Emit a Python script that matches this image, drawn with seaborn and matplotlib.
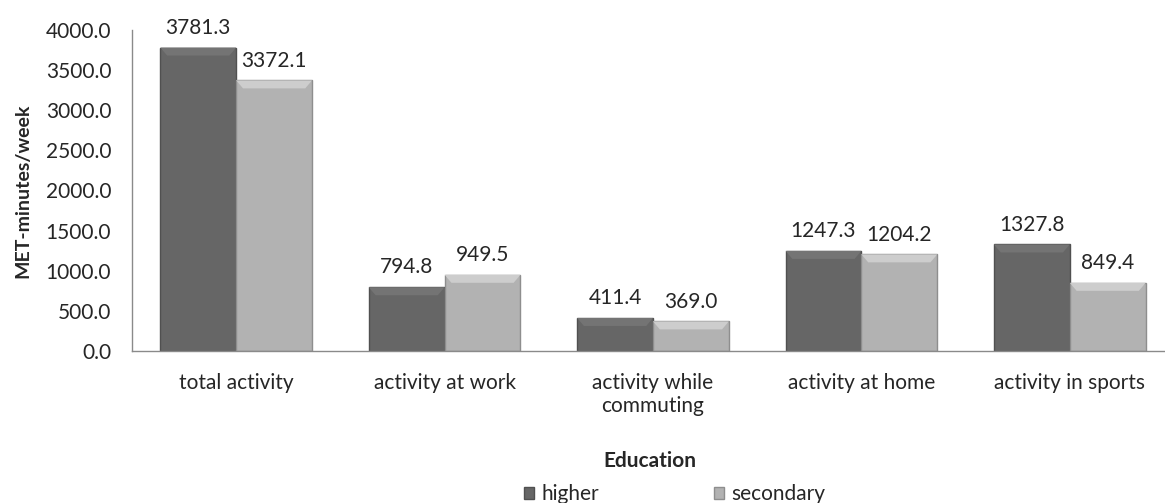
import numpy as np
import pandas as pd
import matplotlib
matplotlib.use("Agg")
import matplotlib.pyplot as plt
from matplotlib.patches import Patch, Polygon
import seaborn as sns


categories = ["total activity", "activity at work", "activity while\ncommuting",
              "activity at home", "activity in sports"]
higher = [3781.3, 794.8, 411.4, 1247.3, 1327.8]
secondary = [3372.1, 949.5, 369.0, 1204.2, 849.4]
groups = ["higher", "secondary"]
yticks = [0, 500, 1000, 1500, 2000, 2500, 3000, 3500, 4000]

FACE = {"higher": "#666666", "secondary": "#b2b2b2"}
EDGE = {"higher": "#505050", "secondary": "#8e8e8e"}
BEVEL = {"higher": "#747474", "secondary": "#cdcdcd"}
TEXT = "#262626"

sns.set_style("white")
plt.rcParams["font.family"] = ["Lato", "DejaVu Sans"]

df = pd.DataFrame({
    "activity": categories * 2,
    "value": higher + secondary,
    "Education": ["higher"] * len(categories) + ["secondary"] * len(categories),
})

fig = plt.figure(figsize=(11.65, 5.03), dpi=100)
ax = fig.add_axes([132 / 1165, 1 - 351 / 503, (1174 - 132) / 1165, 321 / 503])

sns.barplot(data=df, x="activity", y="value", hue="Education", hue_order=groups,
            palette=[FACE[g] for g in groups], saturation=1, width=0.728,
            gap=0, ax=ax, legend=False, errorbar=None)

ax.set_ylim(0, 4000)
ax.set_xlim(-0.5, len(categories) - 0.5)

# edges, a light bevel on top, value labels
px = 4000 / 321  # data units per pixel in y
for cont, g in zip(ax.containers, groups):
    for bar in cont:
        bar.set_edgecolor(EDGE[g])
        bar.set_linewidth(1.0)
        x0, w, h = bar.get_x(), bar.get_width(), bar.get_height()
        d = w * 0.09
        ax.add_patch(Polygon([(x0, h), (x0 + w, h), (x0 + w - d, h - 8 * px), (x0 + d, h - 8 * px)],
                             closed=True, facecolor=BEVEL[g], edgecolor="none", zorder=bar.get_zorder() + 0.1))
    ax.bar_label(cont, labels=[f"{v:.1f}" for v in cont.datavalues],
                 padding=7, fontsize=15, color=TEXT)

ax.set_yticks(yticks)
ax.set_yticklabels([f"{t:.1f}" for t in yticks])
ax.tick_params(axis="y", length=0, pad=15, labelsize=15, labelcolor=TEXT)
ax.tick_params(axis="x", length=0, pad=16, labelsize=15, labelcolor=TEXT)
for lab in ax.get_xticklabels():
    lab.set_linespacing(1.15)
ax.set_xlabel("")
ax.set_ylabel("MET-minutes/week", fontsize=14, fontweight="bold", color=TEXT, labelpad=10)

for side in ["top", "right"]:
    ax.spines[side].set_visible(False)
for side in ["left", "bottom"]:
    ax.spines[side].set_color("#8a8a8a")
    ax.spines[side].set_linewidth(1.0)

fig.text(650 / 1165, 1 - 461 / 503, "Education", ha="center", va="center",
         fontsize=15, fontweight="bold", color=TEXT)

handles = [Patch(facecolor=FACE[g], edgecolor=EDGE[g]) for g in groups]
fig.legend(handles, groups, loc="center left", bbox_to_anchor=(524 / 1165, 1 - 494 / 503),
           ncol=2, frameon=False, fontsize=15, handlelength=0.5, handleheight=0.5,
           handletextpad=0.35, columnspacing=5.5, borderpad=0, borderaxespad=0,
           labelcolor=TEXT)

fig.savefig("out.png", dpi=100)
